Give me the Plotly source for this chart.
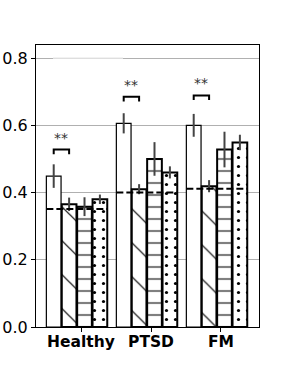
import plotly.graph_objects as go

groups = ["Healthy", "PTSD", "FM"]
series_vals = [
    [0.449, 0.606, 0.600],   # plain
    [0.365, 0.410, 0.419],   # backslash
    [0.358, 0.500, 0.528],   # horizontal
    [0.380, 0.460, 0.549],   # dots
]
series_err = [
    [0.035, 0.030, 0.034],
    [0.020, 0.015, 0.018],
    [0.028, 0.050, 0.053],
    [0.014, 0.018, 0.023],
]
baseline = [0.351, 0.400, 0.411]
bracket_h = [0.528, 0.685, 0.689]
sig_text = ["**", "**", "**"]
y_ticks = [0.0, 0.2, 0.4, 0.6, 0.8]

offsets = [-0.39, -0.17, 0.05, 0.27]
width = 0.21
patterns = [
    dict(shape=""),
    dict(shape="\\", size=24, solidity=0.05, fgcolor="black", bgcolor="white", fgopacity=1),
    dict(shape="-", size=12, solidity=0.18, fgcolor="#808080", bgcolor="white", fgopacity=1),
    dict(shape=".", size=9, solidity=0.1, fgcolor="black", bgcolor="white", fgopacity=1),
]
edge_w = [1.2, 2, 2, 2]

fig = go.Figure()
for s in range(4):
    xs = [g + offsets[s] for g in range(len(groups))]
    fig.add_trace(go.Bar(
        x=xs, y=series_vals[s], width=width,
        marker=dict(color="white", line=dict(color="black", width=edge_w[s]),
                    pattern=patterns[s]),
        error_y=dict(type="data", array=series_err[s], color="#444444",
                     thickness=2, width=0),
        showlegend=False, hoverinfo="skip",
    ))

shapes = []
annotations = []
for g in range(len(groups)):
    x0 = g + offsets[0] - width / 2
    x1 = g + offsets[3] + width / 2
    shapes.append(dict(type="line", x0=x0, x1=x1, y0=baseline[g], y1=baseline[g],
                       line=dict(color="black", width=2, dash="7px,3px"), layer="above"))
    a = g + offsets[0]
    b = g + offsets[1]
    h = bracket_h[g]
    shapes.append(dict(type="path",
                       path=f"M {a} {h-0.014} L {a} {h} L {b} {h} L {b} {h-0.014}",
                       line=dict(color="black", width=2)))
    annotations.append(dict(x=(a + b) / 2, y=h + 0.006, text=sig_text[g], showarrow=False,
                            yanchor="bottom", font=dict(size=14, color="#333333",
                                                         family="DejaVu Sans")))

# faint legend-like patch over the top gridline
shapes.append(dict(type="line", x0=-0.4, x1=0.6, y0=0.8, y1=0.8,
                   line=dict(color="#eeeeee", width=1.5), layer="above"))

fig.update_layout(
    width=288, height=374,
    margin=dict(l=36, r=29, t=45, b=47),
    paper_bgcolor="white", plot_bgcolor="white",
    barmode="overlay",
    shapes=shapes, annotations=annotations,
    font=dict(family="DejaVu Sans", color="black"),
    xaxis=dict(range=[-0.643, 2.543], tickvals=list(range(len(groups))),
               ticktext=[f"<b>{t}</b>" for t in groups], tickfont=dict(size=15.5),
               showline=True, linecolor="black", linewidth=1, mirror=True,
               ticks="outside", ticklen=4, tickcolor="black", showgrid=False,
               zeroline=False, automargin=False, ticklabelstandoff=-4),
    yaxis=dict(range=[0, 0.839], tickvals=y_ticks, ticktext=[f"{v:.1f}" for v in y_ticks],
               tickfont=dict(size=16), showline=True, linecolor="black", linewidth=1,
               mirror=True, ticks="outside", ticklen=4, tickcolor="black",
               showgrid=True, gridcolor="#b0b0b0", gridwidth=1, zeroline=False,
               automargin=False),
)

fig.write_html("out.html", config={"displayModeBar": False},
               post_script="document.body.style.margin='0';document.body.style.padding='0';")
